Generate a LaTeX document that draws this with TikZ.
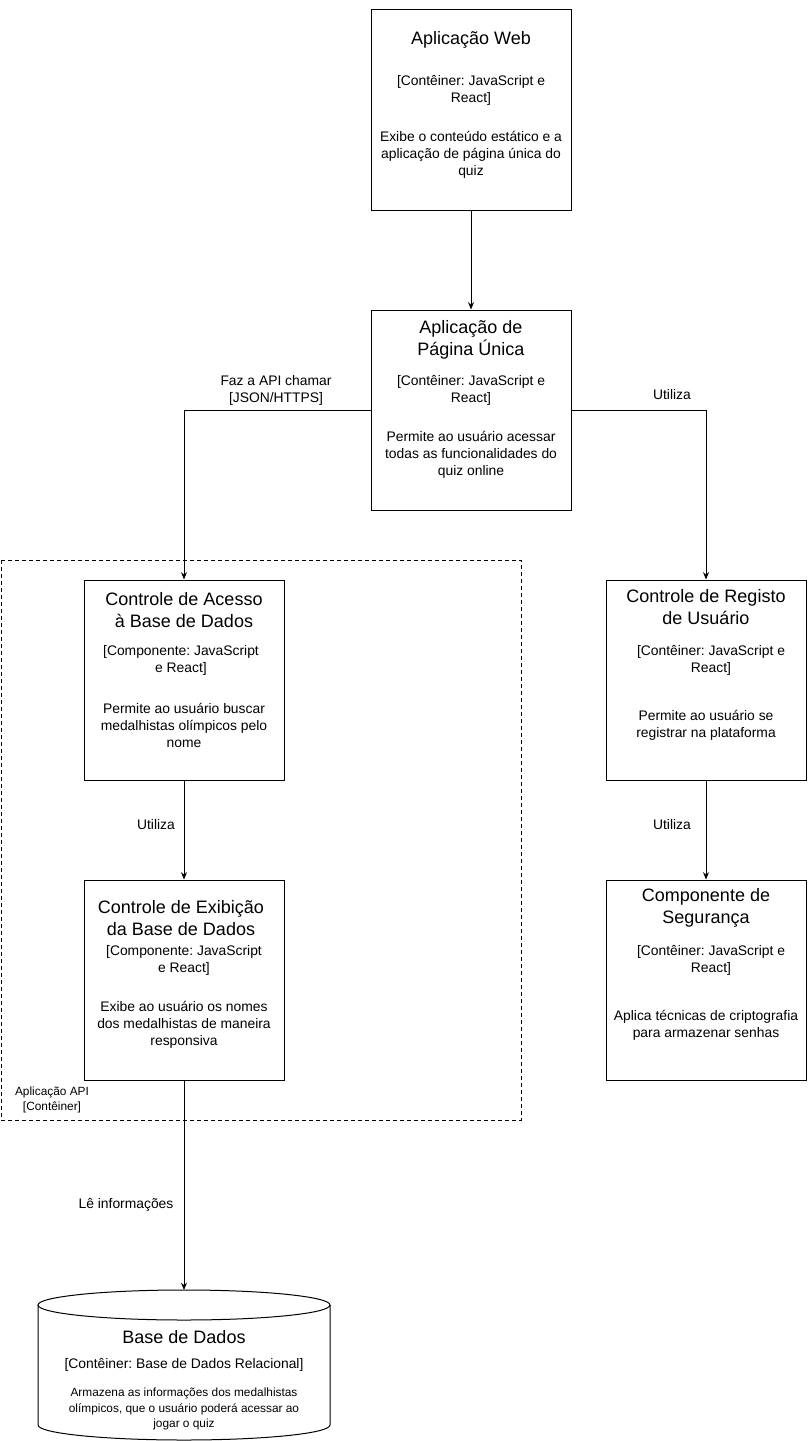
\documentclass[tikz,border=0pt]{standalone}
\usepackage{fontspec}
\setmainfont{Liberation Sans}
\usepackage{tikz}
\usetikzlibrary{arrows.meta}
\frenchspacing

\begin{document}
\begin{tikzpicture}[x=0.75pt, y=-0.75pt, line width=0.75pt]

        % Styles for the boxes, their texts and the connectors
        \tikzset{
            box/.style={draw, minimum width=150pt, minimum height=150pt, inner sep=0},
            title/.style={align=center, font=\fontsize{13.5}{16.5}\selectfont},
            body/.style={align=center, font=\fontsize{10.4}{12.75}\selectfont},
            small/.style={align=center, font=\fontsize{8.9}{11.6}\selectfont},
            link/.style={-{Stealth[length=5.5pt, width=4.5pt]}},
        }

        % Fixes the page to the size of the reference
        \useasboundingbox (0, 0) rectangle (807, 1441);

        % Dashed frame of the API container
        \begin{scope}[dash pattern=on 3pt off 2.25pt]
            \draw (1, 560) rectangle (521, 1120);
        \end{scope}
        \node at (52, 1100) [small] (apiT) {Aplicação API\\{[Contêiner]}};

        % The six boxes
        \node at (471, 110) [box] (web) {};
        \node at (471, 410) [box] (spa) {};
        \node at (184, 680) [box] (acesso) {};
        \node at (184, 980) [box] (exib) {};
        \node at (706, 680) [box] (registo) {};
        \node at (706, 980) [box] (seg) {};

        % Texts inside the boxes
        \node at (471, 40) [title] (webT) {Aplicação Web};
        \node at (471, 90.5) [body] (webC) {[Contêiner: JavaScript e\\React]};
        \node at (471, 155) [body] (webD) {Exibe o conteúdo estático e a\\aplicação de página única do\\quiz};

        \node at (471, 340) [title] (spaT) {Aplicação de\\Página Única};
        \node at (471, 390.5) [body] (spaC) {[Contêiner: JavaScript e\\React]};
        \node at (471, 455) [body] (spaD) {Permite ao usuário acessar\\todas as funcionalidades do\\quiz online};

        \node at (184, 610) [title] (acessoT) {Controle de Acesso\\à Base de Dados};
        \node at (181, 660.5) [body] (acessoC) {[Componente: JavaScript\\e React]};
        \node at (184, 725) [body] (acessoD) {Permite ao usuário buscar\\medalhistas olímpicos pelo\\nome};

        \node at (181, 918) [title] (exibT) {Controle de Exibição\\da Base de Dados};
        \node at (184, 960.5) [body] (exibC) {[Componente: JavaScript\\e React]};
        \node at (184, 1025) [body] (exibD) {Exibe ao usuário os nomes\\dos medalhistas de maneira\\responsiva};

        \node at (706, 607) [title] (registoT) {Controle de Registo\\de Usuário};
        \node at (711, 660.5) [body] (registoC) {[Contêiner: JavaScript e\\React]};
        \node at (706, 725.5) [body] (registoD) {Permite ao usuário se\\registrar na plataforma};

        \node at (706, 908) [title] (segT) {Componente de\\Segurança};
        \node at (711, 960.5) [body] (segC) {[Contêiner: JavaScript e\\React]};
        \node at (706, 1025.5) [body] (segD) {Aplica técnicas de criptografia\\para armazenar senhas};

        % Cylinder of the database, drawn by hand
        \coordinate (db) at (184, 1290);
        \draw (184, 1305) ellipse [x radius=146, y radius=15];
        \draw (38, 1305) -- (38, 1425) arc [start angle=180, end angle=0, x radius=146, y radius=15] -- (330, 1305);
        \node at (184, 1337) [title] (dbT) {Base de Dados};
        \node at (184, 1365) [body] (dbC) {[Contêiner: Base de Dados Relacional]};
        \node at (184, 1409) [small] (dbD) {Armazena as informações dos medalhistas\\olímpicos, que o usuário poderá acessar ao\\jogar o quiz};

        % Connectors with their labels
        \draw[link] (web) -- (spa);
        \draw[link] (spa.west) -| (acesso.north);
        \draw[link] (spa.east) -| (registo.north);
        \draw[link] (acesso) -- (exib);
        \draw[link] (registo) -- (seg);
        \draw[link] (exib) -- (db);

        \node at (276, 390.5) [body] (callL) {Faz a API chamar\\{[JSON/HTTPS]}};
        \node at (672, 395) [body] (useL1) {Utiliza};
        \node at (156, 825) [body] (useL2) {Utiliza};
        \node at (672, 825) [body] (useL3) {Utiliza};
        \node at (126, 1205) [body] (readL) {Lê informações};

\end{tikzpicture}
\end{document}
